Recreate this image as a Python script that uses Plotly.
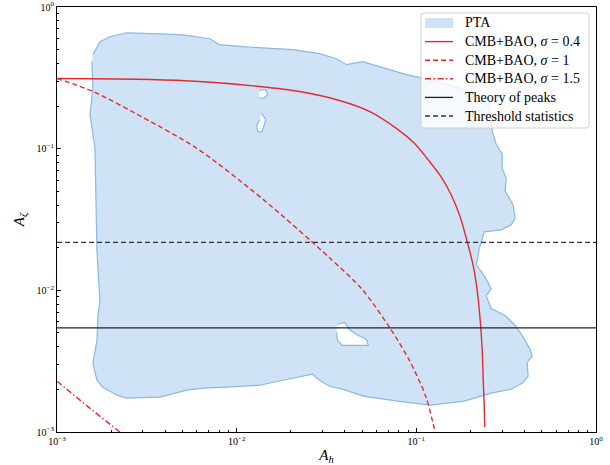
import plotly.graph_objects as go

# ---- PTA region (outer boundary), A_h and A_zeta values ----
pta_ah = [1.585e-3, 1.733e-3, 1.970e-3, 2.448e-3, 3.735e-3, 5.012e-3, 7.079e-3, 8.044e-3,
          0.0108, 0.01668, 0.02048, 0.02892, 0.03594, 0.04085, 0.05012, 0.06228, 0.08799,
          0.1342, 0.197, 0.2544, 0.2644, 0.2783, 0.3005, 0.3005, 0.3162, 0.3122, 0.3458,
          0.3548, 0.3371, 0.2967, 0.2386, 0.2239, 0.2154, 0.2386, 0.2610, 0.2448, 0.2610,
          0.3122, 0.3548, 0.3880, 0.4299, 0.4410, 0.4137, 0.4191, 0.3880, 0.3371, 0.2610,
          0.1848, 0.1196, 0.07843, 0.05075, 0.03881, 0.03286, 0.02892, 0.02644, 0.02048,
          0.01342, 8.799e-3, 6.475e-3, 5.276e-3, 3.735e-3, 2.448e-3, 2.154e-3, 1.801e-3,
          1.668e-3, 1.585e-3, 1.668e-3, 1.690e-3, 1.733e-3, 1.668e-3, 1.646e-3, 1.627e-3,
          1.526e-3, 1.585e-3, 1.565e-3]
pta_az = [0.4606, 0.5685, 0.6164, 0.6577, 0.6471, 0.6365, 0.5968, 0.5417, 0.5244, 0.5078,
          0.4996, 0.4681, 0.4317, 0.3917, 0.4112, 0.3794, 0.3332, 0.2976, 0.2532, 0.1986,
          0.1325, 0.1074, 0.09135, 0.07283, 0.06194, 0.05019, 0.04003, 0.03243, 0.02895,
          0.0267, 0.02585, 0.01963, 0.01516, 0.01269, 0.01028, 9.18e-3, 7.435e-3, 6.643e-3,
          5.647e-3, 4.805e-3, 3.832e-3, 3.421e-3, 3.103e-3, 2.474e-3, 2.21e-3, 2.005e-3,
          1.88e-3, 1.651e-3, 1.548e-3, 1.651e-3, 1.791e-3, 2.005e-3, 2.105e-3, 2.319e-3,
          2.557e-3, 2.396e-3, 2.139e-3, 2.071e-3, 2.038e-3, 1.973e-3, 1.762e-3, 1.733e-3,
          1.82e-3, 2.071e-3, 2.319e-3, 3.053e-3, 4.43e-3, 6.43e-3, 8.465e-3, 0.01901,
          0.0427, 0.1007, 0.1745, 0.2658, 0.4112]

# holes inside the PTA region
hole1_ah = [0.01377, 0.01449, 0.01413, 0.01377, 0.01308, 0.01292, 0.01342]
hole1_az = [0.1773, 0.1609, 0.1414, 0.1304, 0.1325, 0.1460, 0.1609]
hole2_ah = [0.03641, 0.03981, 0.04244, 0.04642, 0.05275, 0.05412, 0.04467, 0.03881, 0.03641, 0.03594]
hole2_az = [5.741e-3, 5.929e-3, 5.295e-3, 4.883e-3, 4.503e-3, 4.087e-3, 4.087e-3, 4.087e-3, 4.43e-3, 5.044e-3]
hole3_ah = [0.01342, 0.01449, 0.01487, 0.01413, 0.01325]
hole3_az = [0.2573, 0.2615, 0.2411, 0.2261, 0.2298]

# ---- CMB+BAO curves ----
s04_ah = [1.0e-3, 3.287e-3, 6.229e-3, 0.01342, 0.02239, 0.03734, 0.05481, 0.0774, 0.09747,
          0.118, 0.1377, 0.1564, 0.1755, 0.1920, 0.2073, 0.2182, 0.2268, 0.2327, 0.2357,
          0.2386, 0.2402]
s04_az = [0.3125, 0.3075, 0.2976, 0.2746, 0.2532, 0.2188, 0.1832, 0.139, 0.1091,
          0.0816, 0.06295, 0.04705, 0.03295, 0.02199, 0.01492, 9.95e-3, 6.125e-3, 3.770e-3,
          2.319e-3, 1.548e-3, 1.084e-3]
s1_ah = [1.0e-3, 1.591e-3, 3.005e-3, 5.995e-3, 0.01395, 0.03286, 0.05012, 0.07079, 0.09144,
         0.1132, 0.1259, 0.128]
s1_az = [0.3125, 0.2532, 0.1662, 0.1007, 0.0441, 0.01698, 0.01011, 5.495e-3, 3.207e-3,
         1.77e-3, 1.062e-3, 1.0e-3]
s15_ah = [1.0e-3, 1.496e-3, 2.239e-3]
s15_az = [2.283e-3, 1.499e-3, 1.0e-3]

# ---- horizontal thresholds ----
x_span = [1e-3, 1.0]
theory_of_peaks = 5.44e-3
threshold_stats = 0.0218

tick_vals = [1e-3, 1e-2, 1e-1, 1.0]
tick_text = ["10<sup>−3</sup>", "10<sup>−2</sup>", "10<sup>−1</sup>", "10<sup>0</sup>"]
minor_vals = [m * 10.0 ** e for e in (-3, -2, -1) for m in range(2, 10)]

legend_names = ["PTA", "CMB+BAO, <i>σ</i> = 0.4", "CMB+BAO, <i>σ</i> = 1",
                "CMB+BAO, <i>σ</i> = 1.5", "Theory of peaks", "Threshold statistics"]

RED = "#e32b2b"
EDGE = "rgb(140,184,230)"
FILL = "rgb(208,226,245)"
FONT = "Liberation Serif"
DASH = "5px,3px"
DASHDOT = "6px,2.5px,1.5px,2.5px"

styles = [None,
          dict(color=RED, width=1.4, dash="solid"),
          dict(color=RED, width=1.4, dash=DASH),
          dict(color=RED, width=1.4, dash=DASHDOT),
          dict(color="#222222", width=1.3, dash="solid"),
          dict(color="#333333", width=1.4, dash=DASH)]

fig = go.Figure()
fig.add_trace(go.Scatter(x=pta_ah, y=pta_az, mode="lines", fill="toself",
                         fillcolor=FILL, line=dict(color=EDGE, width=1.2), name="PTA"))
for hx, hy in ((hole1_ah, hole1_az), (hole2_ah, hole2_az), (hole3_ah, hole3_az)):
    fig.add_trace(go.Scatter(x=hx, y=hy, mode="lines", fill="toself", fillcolor="white",
                             line=dict(color=EDGE, width=1.2), hoverinfo="skip"))

fig.add_trace(go.Scatter(x=s04_ah, y=s04_az, mode="lines",
                         line=dict(styles[1], shape="spline", smoothing=0.8), name=legend_names[1]))
fig.add_trace(go.Scatter(x=s1_ah, y=s1_az, mode="lines",
                         line=dict(styles[2], shape="spline", smoothing=0.8), name=legend_names[2]))
fig.add_trace(go.Scatter(x=s15_ah, y=s15_az, mode="lines", line=styles[3], name=legend_names[3]))
fig.add_trace(go.Scatter(x=x_span, y=[theory_of_peaks] * 2, mode="lines", line=styles[4], name=legend_names[4]))
fig.add_trace(go.Scatter(x=x_span, y=[threshold_stats] * 2, mode="lines", line=styles[5], name=legend_names[5]))

axis_common = dict(type="log", range=[-3, 0], showgrid=False, zeroline=False,
                   showline=True, linecolor="black", linewidth=1.2, mirror=True,
                   ticks="inside", ticklen=4, tickwidth=1, tickcolor="black",
                   tickvals=tick_vals, ticktext=tick_text, ticklabeloverflow="allow",
                   automargin=False,
                   tickfont=dict(family=FONT, size=10, color="black"),
                   minor=dict(tickvals=minor_vals, ticks="inside", ticklen=2, tickwidth=0.8, tickcolor="black"))

fig.update_xaxes(**axis_common,
                 title=dict(text="<i>A<sub>h</sub></i>", font=dict(family=FONT, size=15, color="black"), standoff=4))
fig.update_yaxes(**axis_common,
                 title=dict(text="<i>A</i><sub><i>ζ</i></sub>", font=dict(family=FONT, size=15, color="black"), standoff=8))

# ---- legend box drawn in paper coordinates ----
W, H = 539.0, 425.0          # plot-area size in px
lx0, lx1 = (421 - 57) / W, (589 - 57) / W
ly0, ly1 = (432 - 128) / H, (432 - 13) / H
rx, ry = 3 / W, 3 / H
box_path = (f"M {lx0+rx},{ly1} L {lx1-rx},{ly1} Q {lx1},{ly1} {lx1},{ly1-ry} "
            f"L {lx1},{ly0+ry} Q {lx1},{ly0} {lx1-rx},{ly0} L {lx0+rx},{ly0} "
            f"Q {lx0},{ly0} {lx0},{ly0+ry} L {lx0},{ly1-ry} Q {lx0},{ly1} {lx0+rx},{ly1} Z")
shapes = [dict(type="path", path=box_path, xref="paper", yref="paper",
               fillcolor="rgba(255,255,255,0.8)", line=dict(color="#d0d0d0", width=1))]
annotations = []
sx0, sx1, tx = (425 - 57) / W, (453 - 57) / W, (463 - 57) / W
for i, name in enumerate(legend_names):
    cy = (432 - (23 + 18.6 * i)) / H
    if styles[i] is None:
        shapes.append(dict(type="rect", xref="paper", yref="paper", x0=sx0, x1=sx1,
                           y0=cy - 5 / H, y1=cy + 5 / H, fillcolor=FILL, line=dict(width=0)))
    else:
        shapes.append(dict(type="line", xref="paper", yref="paper", x0=sx0, x1=sx1,
                           y0=cy, y1=cy, line=styles[i]))
    annotations.append(dict(text=name, xref="paper", yref="paper", x=tx, y=cy,
                            xanchor="left", yanchor="middle", showarrow=False,
                            font=dict(family=FONT, size=14, color="black")))

fig.update_layout(
    width=610, height=465,
    margin=dict(l=57, r=14, t=7, b=33),
    paper_bgcolor="white", plot_bgcolor="white",
    font=dict(family=FONT, color="black"),
    showlegend=False,
    shapes=shapes, annotations=annotations,
)

fig.write_html("out.html")
